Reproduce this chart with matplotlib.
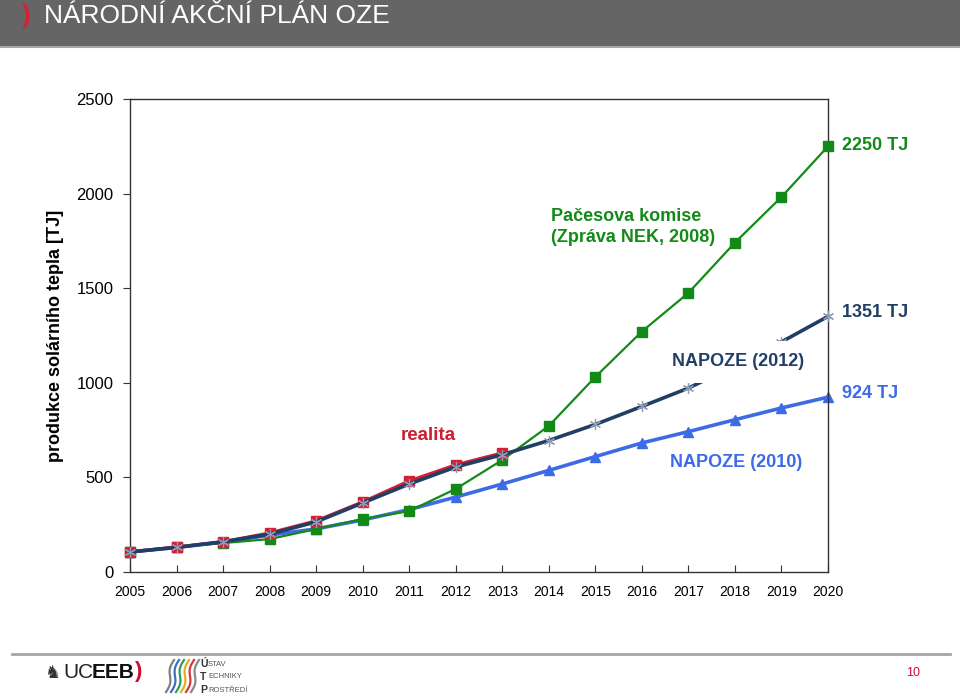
import matplotlib
matplotlib.use("Agg")
import matplotlib.pyplot as plt
from matplotlib.patches import Rectangle
from matplotlib.lines import Line2D
import numpy as np

# data (TJ)
years = list(range(2005, 2021))
realita = [106, 132, 159, 206, 270, 370, 481, 566, 629]
nek_2008 = [106, 132, 153, 174, 227, 280, 322, 439, 592, 772, 1031, 1271, 1475, 1741, 1982, 2250]
napoze_2012 = [106, 130, 160, 200, 265, 365, 465, 555, 620, 695, 780, 875, 972, 1090, 1216, 1351]
napoze_2010 = [106, 130, 158, 195, 228, 275, 330, 396, 465, 537, 610, 682, 742, 805, 867, 924]

c_green = "#138a18"
c_red = "#d42035"
c_dark = "#213f66"
c_light = "#3d6ae6"

narrow = ["Liberation Sans Narrow", "Liberation Sans", "DejaVu Sans"]
plt.rcParams["font.family"] = ["Liberation Sans", "DejaVu Sans"]

W, H = 960, 697
fig = plt.figure(figsize=(W / 100, H / 100), dpi=100)

def fx(px):
    return px / W

def fy(py):
    return 1 - py / H

# header band
fig.add_artist(Rectangle((0, fy(46)), 1, 46 / H, transform=fig.transFigure,
                         facecolor="#656565", edgecolor="none"))
fig.add_artist(Line2D([0, 1], [fy(47), fy(47)], transform=fig.transFigure,
                      color="#a6a6a6", lw=1.5))
fig.text(fx(22), fy(16), ")", color="#d42035", fontsize=19, fontweight="bold",
         va="center", ha="left")
fig.text(fx(44), fy(16), "NÁRODNÍ AKČNÍ PLÁN OZE", color="white", fontsize=19,
         va="center", ha="left")

# chart
ax = fig.add_axes([fx(130), fy(572), fx(828) - fx(130), fy(99) - fy(572)])
ax.plot(years, napoze_2010, color=c_light, lw=2.6, marker="^", ms=6.5,
        mec=c_light, mfc=c_light, zorder=2, clip_on=False)
ax.plot(years, nek_2008, color=c_green, lw=1.6, marker="s", ms=6.5,
        mec=c_green, mfc=c_green, zorder=3, clip_on=False)
ax.plot(years[:len(realita)], realita, color=c_red, lw=2.4, marker="s", ms=7,
        mec=c_red, mfc=c_red, zorder=4, clip_on=False)
ax.plot(years, napoze_2012, color=c_dark, lw=2.6, marker=(6, 2, 0), ms=8,
        mec="#8f9bb3", mew=0.9, zorder=5, clip_on=False)

ax.set_xlim(2005, 2020)
ax.set_ylim(0, 2500)
ax.set_xticks(years)
ax.set_yticks([0, 500, 1000, 1500, 2000, 2500])
for s in ax.spines.values():
    s.set_color("#333333")
    s.set_linewidth(1.0)
ax.tick_params(axis="y", direction="out", length=5, labelsize=12, pad=7, color="#333333")
ax.tick_params(axis="x", direction="in", length=5, labelsize=10, pad=9, color="#333333")
for lab in ax.get_xticklabels():
    lab.set_family(narrow)

ax.set_ylabel("produkce solárního tepla [TJ]", family=narrow, fontsize=13,
              fontweight="bold")
ax.yaxis.set_label_coords(-0.094, 0.5)

ax.text(2011.4, 724, "realita", color="#cc1f2f", fontsize=13.5, fontweight="bold",
        family=narrow, ha="center", va="center")
ax.text(2014.05, 1823, "Pačesova komise\n(Zpráva NEK, 2008)", color=c_green,
        fontsize=13, fontweight="bold", family=narrow, ha="left", va="center",
        linespacing=1.35)
ax.text(2016.65, 1110, "NAPOZE (2012)", color=c_dark, fontsize=13, fontweight="bold",
        family=narrow, ha="left", va="center", zorder=6,
        bbox=dict(facecolor="white", edgecolor="none", pad=9))
ax.text(2016.6, 581, "NAPOZE (2010)", color=c_light, fontsize=13, fontweight="bold",
        family=narrow, ha="left", va="center")
ax.text(2020.3, 2252, "2250 TJ", color=c_green, fontsize=13, fontweight="bold",
        family=narrow, ha="left", va="center", clip_on=False)
ax.text(2020.3, 1374, "1351 TJ", color=c_dark, fontsize=13, fontweight="bold",
        family=narrow, ha="left", va="center", clip_on=False)
ax.text(2020.3, 941, "924 TJ", color=c_light, fontsize=13, fontweight="bold",
        family=narrow, ha="left", va="center", clip_on=False)

# footer
fig.add_artist(Line2D([fx(12), fx(950)], [fy(654), fy(654)], transform=fig.transFigure,
                      color="#a6a6a6", lw=2))
fig.text(fx(44), fy(673), "\u265e", fontsize=13, color="#333333", va="center", ha="left")
fig.text(fx(63), fy(673), "UC", fontsize=15, color="#222222", va="center", ha="left")
fig.text(fx(92), fy(673), "EEB", fontsize=15, color="#111111", fontweight="bold",
         va="center", ha="left")
fig.text(fx(134), fy(672), ")", fontsize=16, color="#c8102e", fontweight="bold",
         va="center", ha="left")
stripe_cols = ["#7f7f7f", "#3b6fc4", "#2e9e55", "#e0b020", "#d23a3a", "#8a8a8a"]
t = np.linspace(0, 1, 20)
for i, c in enumerate(stripe_cols):
    xs = fx(166 + i * 5 + 8 * t + 2 * np.sin(t * 2 * np.pi))
    ys = fy(692 - 32 * t)
    fig.add_artist(Line2D(xs, ys, transform=fig.transFigure, color=c, lw=1.6))
for row, (a, b) in enumerate([("Ú", "STAV"), ("T", "ECHNIKY"), ("P", "ROSTŘEDÍ")]):
    yy = fy(664 + row * 13)
    fig.text(fx(200), yy, a, fontsize=7.5, fontweight="bold", color="#333333",
             va="center", ha="left")
    fig.text(fx(208), yy, b.upper(), fontsize=5.5, color="#555555", va="center", ha="left")
fig.text(fx(913), fy(673), "10", fontsize=9, color="#c8102e", va="center", ha="center")

fig.savefig("out.png", dpi=100)
